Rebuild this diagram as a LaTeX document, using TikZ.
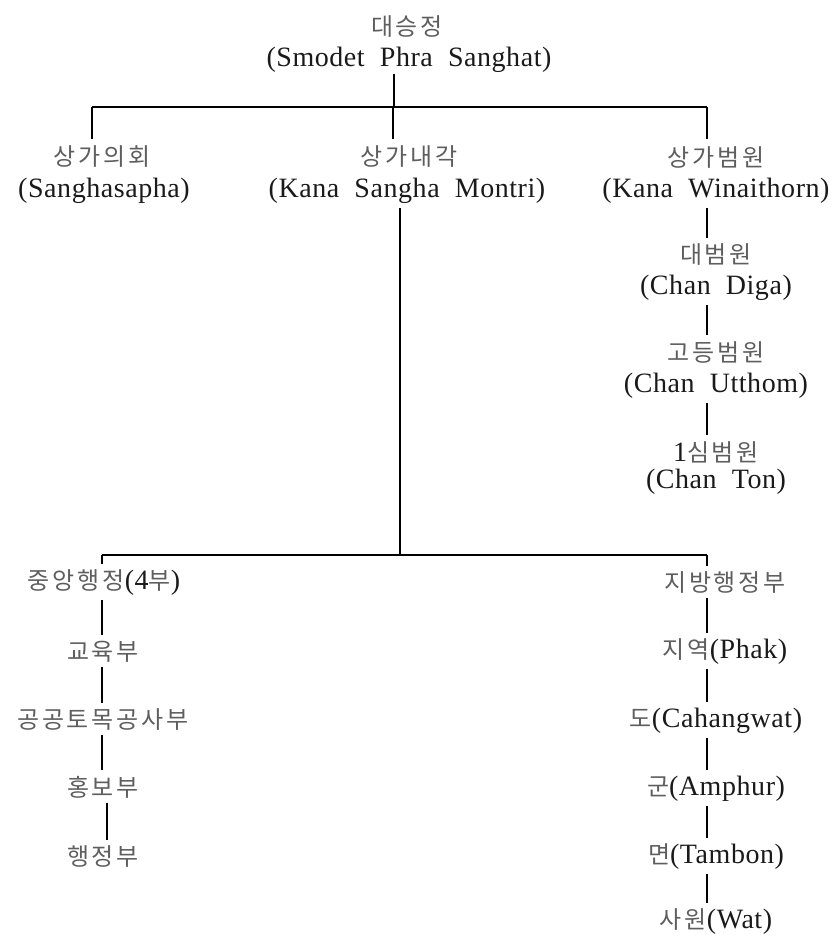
\documentclass[tikz,border=0pt]{standalone}
\usepackage{fontspec}
\setmainfont{Liberation Serif}[LetterSpace=2,WordSpace=2]
\newfontfamily\korfam{Noto Sans CJK KR}[LetterSpace=12]
\definecolor{kgray}{HTML}{5E5E5E}
\definecolor{egray}{HTML}{1A1A1A}
\newcommand\ko[1]{{\fontsize{24}{28}\selectfont\korfam\color{kgray}#1}}
\tikzset{
  lbl/.style={inner sep=1.5pt, outer sep=0pt, text=egray, font=\fontsize{28}{32}\selectfont},
  link/.style={line width=1.3pt, shorten <=3pt, shorten >=5pt},
  bar/.style={line width=1.3pt}
}
\begin{document}
\begin{tikzpicture}[x=1pt,y=-1pt]
\useasboundingbox (0,0) rectangle (834,938);
% nodes
\node[lbl] (rootK) at (407,27) {\ko{대승정}};
\node[lbl] (rootE) at (409,59.5) {(Smodet Phra Sanghat)};
\node[lbl] (sgK) at (102,157) {\ko{상가의회}};
\node[lbl] (sgE) at (104,191) {(Sanghasapha)};
\node[lbl] (kmK) at (409,157) {\ko{상가내각}};
\node[lbl] (kmE) at (407,191) {(Kana Sangha Montri)};
\node[lbl] (kwK) at (716,157) {\ko{상가범원}};
\node[lbl] (kwE) at (716,191) {(Kana Winaithorn)};
\node[lbl] (dbK) at (716,255) {\ko{대범원}};
\node[lbl] (dbE) at (716,288) {(Chan Diga)};
\node[lbl] (gbK) at (716,352) {\ko{고등범원}};
\node[lbl] (gbE) at (716,386) {(Chan Utthom)};
\node[lbl] (sbK) at (716,452) {1\ko{심범원}};
\node[lbl] (sbE) at (716,482) {(Chan Ton)};
\node[lbl] (c1) at (104,583) {\ko{중앙행정}(4\ko{부})};
\node[lbl] (c2) at (103,652) {\ko{교육부}};
\node[lbl] (c3) at (103,720) {\ko{공공토목공사부}};
\node[lbl] (c4) at (103,787) {\ko{홍보부}};
\node[lbl] (c5) at (103,857) {\ko{행정부}};
\node[lbl] (r1) at (725,583) {\ko{지방행정부}};
\node[lbl] (r2) at (725,652) {\ko{지역}(Phak)};
\node[lbl] (r3) at (716,721) {\ko{도}(Cahangwat)};
\node[lbl] (r4) at (716,789) {\ko{군}(Amphur)};
\node[lbl] (r5) at (716,857) {\ko{면}(Tambon)};
\node[lbl] (r6) at (716,922) {\ko{사원}(Wat)};
% junctions
\coordinate (j0) at (394,107);
\coordinate (jL) at (92,107);
\coordinate (jM) at (393,107);
\coordinate (jR) at (707,107);
\coordinate (m0) at (400,555);
\coordinate (bl) at (102,555);
\coordinate (br) at (707,555);
\coordinate (xl) at (107,838);
% connectors
\draw[bar] (rootE.south -| j0) -- (j0);
\draw[bar] (jL) -- (jR);
\draw[bar, shorten >=6pt] (jL) -- (sgK.north -| jL);
\draw[bar, shorten >=6pt] (jM) -- (kmK.north -| jM);
\draw[bar, shorten >=6pt] (jR) -- (kwK.north -| jR);
\draw[bar, shorten <=3pt] (kmE.south -| m0) -- (m0);
\draw[bar] (bl) -- (br);
\draw[link] (kwE.south -| jR) -- (dbK.north -| jR);
\draw[link] (dbE.south -| jR) -- (gbK.north -| jR);
\draw[link] (gbE.south -| jR) -- (sbK.north -| jR);
\draw[bar, shorten >=5pt] (bl) -- (c1.north -| bl);
\draw[bar, shorten >=5pt] (br) -- (r1.north -| br);
\draw[link] (c1.south -| bl) -- (c2.north -| bl);
\draw[link] (c2.south -| bl) -- (c3.north -| bl);
\draw[link] (c3.south -| bl) -- (c4.north -| bl);
\draw[link] (c4.south -| xl) -- (c5.north -| xl);
\draw[link] (r1.south -| br) -- (r2.north -| br);
\draw[link] (r2.south -| br) -- (r3.north -| br);
\draw[link] (r3.south -| br) -- (r4.north -| br);
\draw[link] (r4.south -| br) -- (r5.north -| br);
\draw[link] (r5.south -| br) -- (r6.north -| br);
\end{tikzpicture}
\end{document}
